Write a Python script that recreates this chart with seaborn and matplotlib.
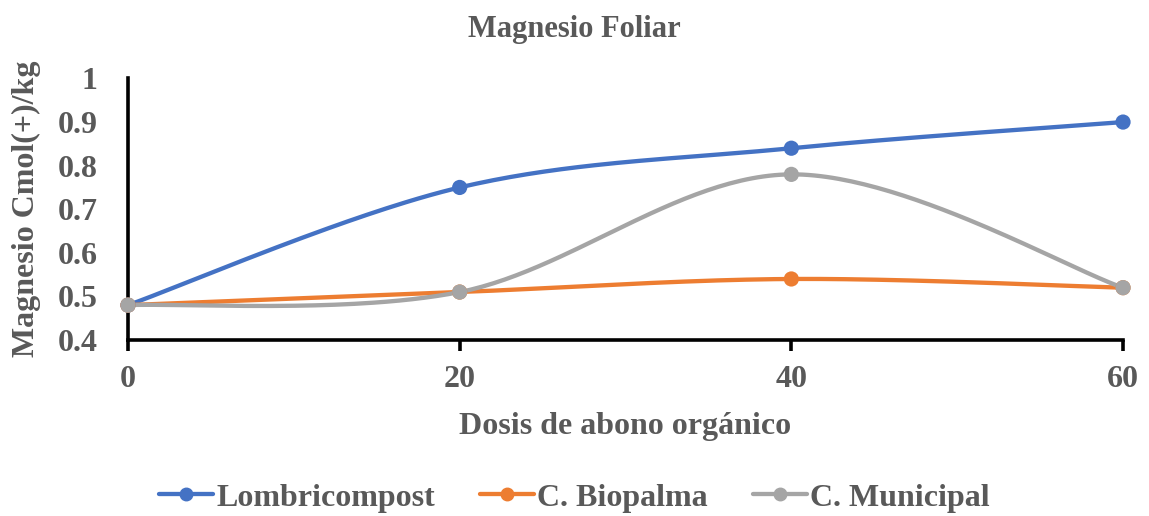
import numpy as np
import pandas as pd
import matplotlib
matplotlib.use("Agg")
import matplotlib.pyplot as plt
from matplotlib.lines import Line2D
import seaborn as sns

# ---- data ----
dosis = [0, 20, 40, 60]
lombricompost = [0.48, 0.75, 0.84, 0.90]
biopalma = [0.48, 0.51, 0.54, 0.52]
municipal = [0.48, 0.51, 0.78, 0.52]
series_names = ["Lombricompost", "C. Biopalma", "C. Municipal"]
colors = ["#4472C4", "#ED7D31", "#A5A5A5"]
y_ticks = [0.4, 0.5, 0.6, 0.7, 0.8, 0.9, 1.0]
y_tick_labels = ["0.4", "0.5", "0.6", "0.7", "0.8", "0.9", "1"]
title = "Magnesio Foliar"
xlabel = "Dosis de abono orgánico"
ylabel = "Magnesio Cmol(+)/kg"


def smooth(xs, ys, n=60):
    """Excel-like smoothed line (Catmull-Rom Bezier) for rendering."""
    P = np.column_stack([xs, ys]).astype(float)
    pts = []
    for i in range(len(P) - 1):
        p0 = P[i - 1] if i > 0 else P[i]
        p1 = P[i]
        p2 = P[i + 1]
        p3 = P[i + 2] if i + 2 < len(P) else P[i + 1]
        c1 = p1 + (p2 - p0) / 6.0
        c2 = p2 - (p3 - p1) / 6.0
        t = np.linspace(0, 1, n)[:, None]
        b = ((1 - t) ** 3) * p1 + 3 * ((1 - t) ** 2) * t * c1 + 3 * (1 - t) * t ** 2 * c2 + t ** 3 * p2
        pts.append(b if i == 0 else b[1:])
    B = np.vstack(pts)
    return B[:, 0], B[:, 1]


values = [lombricompost, biopalma, municipal]
curve_frames = []
point_frames = []
for name, vals in zip(series_names, values):
    sx, sy = smooth(dosis, vals)
    curve_frames.append(pd.DataFrame({"x": sx, "y": sy, "serie": name}))
    point_frames.append(pd.DataFrame({"x": dosis, "y": vals, "serie": name}))
curves = pd.concat(curve_frames, ignore_index=True)
points = pd.concat(point_frames, ignore_index=True)

sns.set_theme(style="white")
plt.rcParams['font.family'] = ['Liberation Serif', 'DejaVu Serif']
text_color = "#595959"

fig = plt.figure(figsize=(11.49, 5.16), dpi=100)
ax = fig.add_axes([0.1114, 0.3411, 0.866, 0.5068])

palette = dict(zip(series_names, colors))
sns.lineplot(data=curves, x="x", y="y", hue="serie", palette=palette, sort=False,
             estimator=None, units="serie", linewidth=3.1, legend=False, ax=ax, zorder=3)
sns.scatterplot(data=points, x="x", y="y", hue="serie", palette=palette, s=120,
                linewidth=0, legend=False, ax=ax, zorder=4, clip_on=False)
for c in ax.collections:
    c.set_clip_on(False)

ax.set_xlim(0, 60)
ax.set_ylim(0.4, 1.0)
ax.set_xticks(dosis)
ax.set_xticklabels([str(d) for d in dosis])
ax.set_yticks(y_ticks)
ax.set_yticklabels(y_tick_labels)

for s in ["top", "right"]:
    ax.spines[s].set_visible(False)
for s in ["left", "bottom"]:
    ax.spines[s].set_color("black")
    ax.spines[s].set_linewidth(2.6)

ax.tick_params(axis="x", direction="out", length=8, width=2.6, color="black",
               labelsize=23, labelcolor=text_color, pad=10, bottom=True)
ax.tick_params(axis="y", length=0, labelsize=23, labelcolor=text_color, pad=22)
for lab in ax.get_xticklabels() + ax.get_yticklabels():
    lab.set_fontweight("bold")

ax.set_xlabel(xlabel, fontsize=23, fontweight="bold", color=text_color, labelpad=13)
ax.set_ylabel(ylabel, fontsize=23, fontweight="bold", color=text_color, labelpad=12)
fig.suptitle(title, x=0.5, y=0.97, fontsize=22, fontweight="bold", color=text_color)

handles = [Line2D([0], [0], color=c, lw=3.1, marker="o", markersize=9) for c in colors]
leg = fig.legend(handles, series_names, loc="center", bbox_to_anchor=(0.5, 0.035), ncol=3,
                 frameon=False, fontsize=23, handlelength=1.7, handletextpad=0.1,
                 columnspacing=1.4)
for t in leg.get_texts():
    t.set_color(text_color)
    t.set_fontweight("bold")

fig.savefig("out.png", dpi=100)
